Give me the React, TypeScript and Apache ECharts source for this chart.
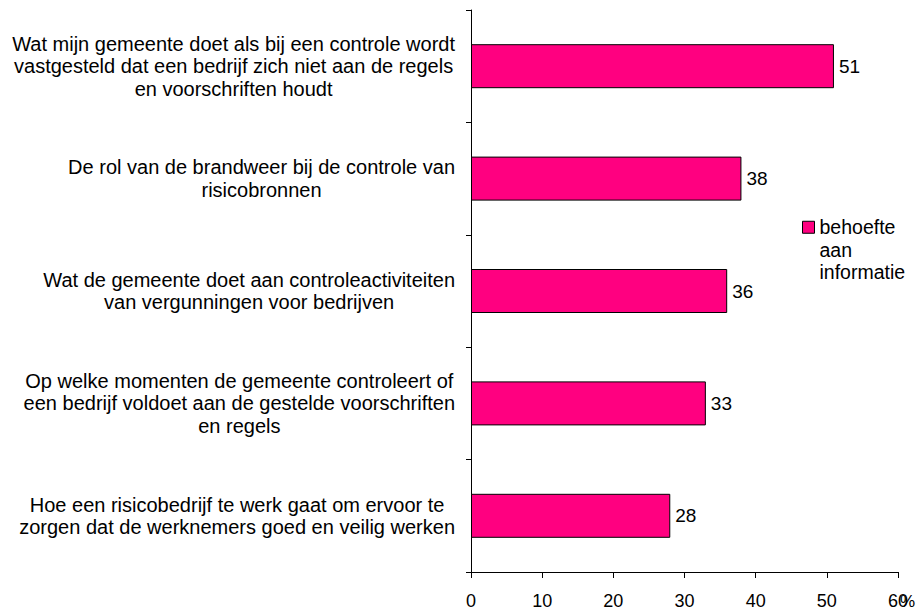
import React, { useEffect, useRef } from "react";
import * as echarts from "echarts";

const categories: string[] = [
  "Wat mijn gemeente doet als bij een controle wordt\nvastgesteld dat een bedrijf zich niet aan de regels\nen voorschriften houdt",
  "De rol van de brandweer bij de controle van\nrisicobronnen",
  "Wat de gemeente doet aan controleactiviteiten\nvan vergunningen voor bedrijven",
  "Op welke momenten de gemeente controleert of\neen bedrijf voldoet aan de gestelde voorschriften\nen regels",
  "Hoe een risicobedrijf te werk gaat om ervoor te\nzorgen dat de werknemers goed en veilig werken",
];
const values: number[] = [51, 38, 36, 33, 28];
const seriesName = "behoefte\naan\ninformatie";
const xTicks = { min: 0, max: 60, interval: 10 };
const unitLabel = "%";

const FONT = "'Liberation Sans', Arial, sans-serif";

export default function App() {
  const ref = useRef<HTMLDivElement>(null);
  useEffect(() => {
    if (!ref.current) return;
    const chart = echarts.init(ref.current, undefined, { renderer: "svg" });
    chart.setOption({
      animation: false,
      backgroundColor: "#fff",
      textStyle: { fontFamily: FONT },
      grid: {
        left: 471,
        right: 26,
        top: 10,
        bottom: 39,
        containLabel: false,
        outerBoundsMode: "none",
      },
      legend: {
        show: true,
        left: 802,
        top: 171,
        padding: 0,
        icon: "rect",
        itemWidth: 12,
        itemHeight: 12,
        itemStyle: { borderColor: "#000", borderWidth: 1 },
        formatter: (name: string) => "\n\n" + name,
        textStyle: {
          fontSize: 19.5,
          lineHeight: 22.5,
          color: "#000",
          fontFamily: FONT,
        },
        data: [seriesName],
      },
      xAxis: {
        type: "value",
        min: xTicks.min,
        max: xTicks.max,
        interval: xTicks.interval,
        name: unitLabel,
        nameLocation: "end",
        nameGap: 2,
        nameMoveOverlap: false,
        nameTextStyle: {
          fontSize: 17,
          lineHeight: 17,
          color: "#000",
          fontFamily: FONT,
          verticalAlign: "top",
          padding: [21, 0, 0, 0],
        },
        axisLine: { show: true, lineStyle: { color: "#000", width: 1 } },
        axisTick: { show: true, length: 6, inside: false, lineStyle: { color: "#000" } },
        axisLabel: { fontSize: 18, lineHeight: 18, color: "#000", margin: 20, fontFamily: FONT },
        splitLine: { show: false },
      },
      yAxis: {
        type: "category",
        inverse: true,
        data: categories,
        axisLine: { show: true, lineStyle: { color: "#000", width: 1 } },
        axisTick: { show: true, length: 5, inside: false, alignWithLabel: false, lineStyle: { color: "#000" } },
        axisLabel: {
          margin: 16,
          color: "#000",
          formatter: (v: string) => "{a|" + v + "}",
          rich: {
            a: {
              align: "center",
              fontSize: 20,
              lineHeight: 22.5,
              color: "#000",
              fontFamily: FONT,
            },
          },
        },
        splitLine: { show: false },
      },
      series: [
        {
          name: seriesName,
          type: "bar",
          data: values,
          barWidth: 44,
          itemStyle: { color: "#FF0080", borderColor: "#000", borderWidth: 1 },
          label: {
            show: true,
            position: "right",
            distance: 5,
            fontSize: 19,
            color: "#000",
            fontFamily: FONT,
          },
        },
      ],
    });
    return () => chart.dispose();
  }, []);
  return (
    <div
      ref={ref}
      style={{ position: "fixed", left: 0, top: 0, width: 924, height: 611 }}
    />
  );
}
